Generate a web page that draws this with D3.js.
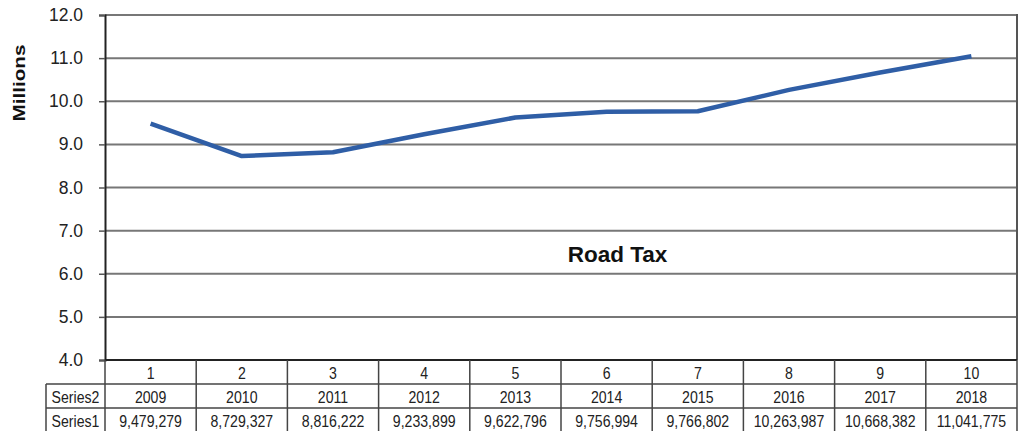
<!DOCTYPE html>
<html>
<head>
<meta charset="utf-8">
<script src="https://cdn.jsdelivr.net/npm/d3@7/dist/d3.min.js"></script>
<style>
  html, body { margin: 0; padding: 0; background: #fff; }
  svg { display: block; font-family: "Liberation Sans", Arial, sans-serif; }
</style>
</head>
<body>
<svg id="chart" width="1024" height="431"></svg>
<script>
// Road tax receipts per year
const categories = ["1", "2", "3", "4", "5", "6", "7", "8", "9", "10"];
const years = ["2009", "2010", "2011", "2012", "2013", "2014", "2015", "2016", "2017", "2018"];
const values = [9479279, 8729327, 8816222, 9233899, 9622796, 9756994, 9766802, 10263987, 10668382, 11041775];
const yTicks = [4, 5, 6, 7, 8, 9, 10, 11, 12];
const rowHeaders = ["Series2", "Series1"];

const svg = d3.select("#chart");
const plotLeft = 105, plotRight = 1017, plotTop = 15, plotBottom = 360;
const gridColor = "#777";

const x = d3.scaleBand().domain(categories).range([plotLeft, plotRight]).padding(0);
const y = d3.scaleLinear().domain([4, 12]).range([plotBottom, plotTop]);

// Horizontal gridlines
svg.append("g").selectAll("line").data(yTicks.slice(1)).join("line")
  .attr("x1", plotLeft).attr("x2", plotRight)
  .attr("y1", d => y(d)).attr("y2", d => y(d))
  .attr("stroke", gridColor).attr("stroke-width", 2);

// Right border
svg.append("line").attr("x1", plotRight).attr("x2", plotRight).attr("y1", plotTop - 1).attr("y2", plotBottom)
  .attr("stroke", "#555").attr("stroke-width", 2);

// Y axis
const yAxis = d3.axisLeft(y).tickValues(yTicks).tickFormat(d3.format(".1f")).tickSize(6).tickPadding(16);
const gy = svg.append("g").attr("transform", `translate(${plotLeft},0)`).call(yAxis);
gy.select(".domain").attr("stroke", "#222").attr("stroke-width", 2);
gy.selectAll(".tick line").attr("stroke", "#555").attr("stroke-width", 1.5);
gy.selectAll(".tick text").attr("fill", "#222").style("font-size", "17.5px").style("font-family", "Liberation Sans, Arial, sans-serif");

// Axis title
svg.append("text")
  .attr("transform", "translate(25,83) rotate(-90)")
  .attr("text-anchor", "middle")
  .attr("textLength", 77).attr("lengthAdjust", "spacingAndGlyphs")
  .style("font-size", "16.5px").style("font-weight", "bold").attr("fill", "#111")
  .text("Millions");

// Chart title
svg.append("text")
  .attr("x", 617.5).attr("y", 261.5)
  .attr("text-anchor", "middle")
  .style("font-size", "22.5px").style("font-weight", "bold").attr("fill", "#111")
  .text("Road Tax");

// Data line
const line = d3.line()
  .x((d, i) => x(categories[i]) + x.bandwidth() / 2)
  .y(d => y(d / 1e6));
svg.append("path").datum(values)
  .attr("d", line)
  .attr("fill", "none")
  .attr("stroke", "#2f5ea6")
  .attr("stroke-width", 4.5)
  .attr("stroke-linejoin", "round");

// Data table below the plot
const rowLines = [384, 408];
const rowBottom = 431;
const headerLeft = 46;
const tbl = svg.append("g");
const tableStroke = "#444";

// horizontal rules
tbl.append("line").attr("x1", plotLeft).attr("x2", plotRight).attr("y1", plotBottom).attr("y2", plotBottom)
  .attr("stroke", "#222").attr("stroke-width", 2);
rowLines.forEach(yy => {
  tbl.append("line").attr("x1", headerLeft).attr("x2", plotRight).attr("y1", yy).attr("y2", yy)
    .attr("stroke", tableStroke).attr("stroke-width", 1.5);
});
// vertical rules
const colEdges = categories.map(c => x(c)).concat([plotRight]);
colEdges.forEach(xx => {
  tbl.append("line").attr("x1", xx).attr("x2", xx).attr("y1", plotBottom).attr("y2", rowBottom)
    .attr("stroke", tableStroke).attr("stroke-width", 1.5);
});
tbl.append("line").attr("x1", headerLeft).attr("x2", headerLeft).attr("y1", rowLines[0]).attr("y2", rowBottom)
  .attr("stroke", tableStroke).attr("stroke-width", 1.5);

// condensed cell text
const fmt = d3.format(",");
const cellFont = "17px";
const squeeze = 0.83;
const cx = (d, i) => x(categories[i]) + x.bandwidth() / 2;
function cellText(sel, baseline, xPos) {
  return sel.join("text")
    .attr("transform", (d, i) => `translate(${xPos(d, i)},${baseline}) scale(${squeeze},1)`)
    .attr("text-anchor", "middle").style("font-size", cellFont).attr("fill", "#222");
}
cellText(tbl.selectAll("text.cat").data(categories), 378.5, cx).text(d => d);
cellText(tbl.selectAll("text.yr").data(years), 402.5, cx).text(d => d);
cellText(tbl.selectAll("text.val").data(values), 426.5, cx).text(d => fmt(d));
tbl.selectAll("text.hdr").data(rowHeaders).join("text")
  .attr("transform", (d, i) => `translate(${(headerLeft + plotLeft) / 2},${i === 0 ? 402.5 : 426.5}) scale(${squeeze},1)`)
  .attr("text-anchor", "middle").style("font-size", cellFont).attr("fill", "#222")
  .text(d => d);
</script>
</body>
</html>
